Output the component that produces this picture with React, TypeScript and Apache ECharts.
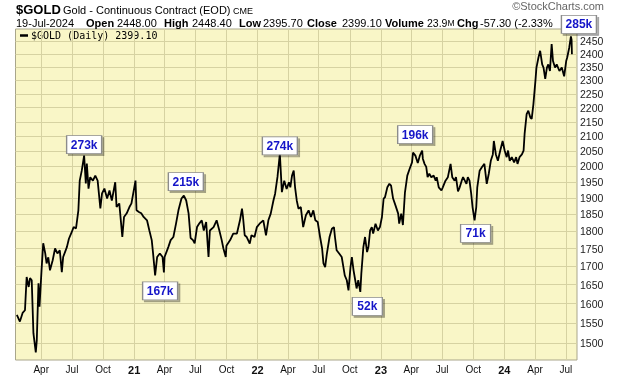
import React, { useEffect, useRef } from "react";
import * as echarts from "echarts";

// ---- data ----
const dates = [
  "2020-01-20","2020-01-29","2020-02-06","2020-02-13","2020-02-18","2020-02-24","2020-02-28","2020-03-04","2020-03-09","2020-03-16",
  "2020-03-19","2020-03-24","2020-03-27","2020-04-02","2020-04-07","2020-04-13","2020-04-17","2020-04-22","2020-04-27","2020-05-05",
  "2020-05-12","2020-05-19","2020-05-26","2020-06-01","2020-06-05","2020-06-16","2020-06-22","2020-06-29","2020-07-06","2020-07-13",
  "2020-07-20","2020-07-24","2020-07-30","2020-08-06","2020-08-11","2020-08-14","2020-08-19","2020-08-24","2020-09-01","2020-09-08",
  "2020-09-15","2020-09-23","2020-09-28","2020-10-05","2020-10-13","2020-10-20","2020-10-27","2020-11-06","2020-11-10","2020-11-18",
  "2020-11-27","2020-12-02","2020-12-10","2020-12-18","2020-12-24",
  "2021-01-05","2021-01-08","2021-01-15","2021-01-22","2021-01-29","2021-02-08","2021-02-15","2021-02-22","2021-02-26","2021-03-04",
  "2021-03-10","2021-03-18","2021-03-26","2021-03-30","2021-04-01","2021-04-12","2021-04-19","2021-04-27","2021-05-05","2021-05-12",
  "2021-05-21","2021-05-28","2021-06-04","2021-06-11","2021-06-17","2021-06-24","2021-06-29","2021-07-06","2021-07-13","2021-07-20",
  "2021-07-26","2021-08-02","2021-08-09","2021-08-13","2021-08-24","2021-09-02","2021-09-10","2021-09-17","2021-09-22","2021-09-29",
  "2021-10-01","2021-10-12","2021-10-21","2021-11-01","2021-11-10","2021-11-16","2021-11-19","2021-11-24","2021-11-30","2021-12-09",
  "2021-12-14","2021-12-23","2021-12-30",
  "2022-01-07","2022-01-18","2022-01-26","2022-02-02","2022-02-09","2022-02-17","2022-02-22","2022-03-01","2022-03-08","2022-03-14",
  "2022-03-21","2022-03-28","2022-04-04","2022-04-08","2022-04-13","2022-04-18","2022-04-22","2022-04-27","2022-05-02","2022-05-09",
  "2022-05-16","2022-05-24","2022-06-01","2022-06-08","2022-06-15","2022-06-21","2022-06-28","2022-07-05","2022-07-11","2022-07-15",
  "2022-07-20","2022-07-25","2022-08-02","2022-08-09","2022-08-15","2022-08-18","2022-08-23","2022-08-31","2022-09-07","2022-09-12",
  "2022-09-16","2022-09-22","2022-09-27","2022-10-03","2022-10-07","2022-10-12","2022-10-17","2022-10-21","2022-10-26","2022-11-01",
  "2022-11-04","2022-11-10","2022-11-15","2022-11-21","2022-11-25","2022-11-30","2022-12-05","2022-12-09","2022-12-16","2022-12-23",
  "2022-12-29",
  "2023-01-04","2023-01-09","2023-01-13","2023-01-20","2023-01-26","2023-01-31","2023-02-06","2023-02-13","2023-02-21","2023-02-24",
  "2023-03-02","2023-03-07","2023-03-13","2023-03-20","2023-03-27","2023-04-03","2023-04-06","2023-04-13","2023-04-20","2023-04-26",
  "2023-05-03","2023-05-05","2023-05-10","2023-05-15","2023-05-19","2023-05-24","2023-05-30","2023-06-06","2023-06-12","2023-06-15",
  "2023-06-21","2023-06-29","2023-07-03","2023-07-11","2023-07-18","2023-07-26","2023-07-31","2023-08-07","2023-08-11","2023-08-17",
  "2023-08-22","2023-08-28","2023-09-01","2023-09-11","2023-09-15","2023-09-20","2023-09-25","2023-09-29","2023-10-05","2023-10-10",
  "2023-10-13","2023-10-20","2023-10-27","2023-11-03","2023-11-10","2023-11-16","2023-11-22","2023-11-28","2023-12-01","2023-12-07",
  "2023-12-13","2023-12-20","2023-12-27",
  "2024-01-02","2024-01-08","2024-01-12","2024-01-17","2024-01-23","2024-01-30","2024-02-05","2024-02-09","2024-02-15","2024-02-22",
  "2024-02-27","2024-03-01","2024-03-07","2024-03-12","2024-03-18","2024-03-22","2024-03-27","2024-04-02","2024-04-05","2024-04-11",
  "2024-04-16","2024-04-22","2024-04-26","2024-05-01","2024-05-06","2024-05-10","2024-05-15","2024-05-20","2024-05-24","2024-05-30",
  "2024-06-04","2024-06-12","2024-06-19","2024-06-26","2024-07-02","2024-07-05","2024-07-11","2024-07-16","2024-07-18","2024-07-19"
];

const closes = [
  1571,1554,1576,1583,1671,1644,1668,1662,1525,1478,
  1508,1654,1592,1689,1765,1736,1708,1725,1689,1717,
  1750,1736,1745,1684,1726,1754,1778,1794,1812,1808,
  1862,1954,1986,2035,1945,2009,1929,1965,1954,1970,
  1954,1868,1914,1929,1898,1923,1892,1949,1872,1883,
  1783,1842,1853,1872,1883,
  1954,1862,1857,1853,1842,1832,1802,1774,1736,1675,
  1726,1736,1726,1683,1726,1754,1774,1783,1823,1862,
  1898,1907,1892,1853,1780,1774,1765,1812,1823,1832,
  1802,1827,1726,1802,1812,1832,1802,1774,1750,1726,
  1758,1774,1793,1793,1832,1867,1842,1788,1783,1764,
  1788,1783,1812,
  1822,1832,1788,1832,1852,1892,1913,1966,2041,1918,
  1954,1928,1949,1933,1970,1986,1933,1892,1867,1872,
  1812,1847,1862,1842,1862,1832,1827,1783,1750,1708,
  1698,1735,1783,1807,1812,1783,1745,1735,1726,1698,
  1675,1662,1635,1698,1726,1689,1662,1640,1662,1631,
  1680,1754,1783,1740,1754,1802,1812,1793,1822,1802,
  1812,
  1842,1898,1902,1933,1944,1938,1898,1877,1852,1822,
  1852,1818,1916,1970,1992,2013,2045,2035,2011,2035,
  2052,2025,2008,1998,1965,1976,1965,1970,1954,1965,
  1933,1923,1933,1954,1965,2008,1965,1954,1965,1920,
  1933,1954,1965,1944,1965,1954,1913,1872,1832,1872,
  1933,1986,1998,2008,1944,1976,2018,2039,2084,2039,
  2018,2052,2084,
  2052,2030,2052,2018,2030,2013,2030,2008,2030,2039,
  2052,2108,2177,2189,2165,2160,2212,2298,2348,2387,
  2413,2360,2348,2305,2348,2360,2335,2440,2373,2348,
  2360,2335,2348,2315,2373,2387,2425,2470,2456,2399.1
];

const yTicks = [1500,1550,1600,1650,1700,1750,1800,1850,1900,1950,2000,2050,2100,2150,2200,2250,2300,2350,2400,2450];

const quarterTicks = [
  "2020-04-01","2020-07-01","2020-10-01","2021-01-01","2021-04-01","2021-07-01","2021-10-01",
  "2022-01-01","2022-04-01","2022-07-01","2022-10-01","2023-01-01","2023-04-01","2023-07-01",
  "2023-10-01","2024-01-01","2024-04-01","2024-07-01"
];
const monthNames = ["Jan","Feb","Mar","Apr","May","Jun","Jul","Aug","Sep","Oct","Nov","Dec"];

const volumeLabels = ["273k","215k","167k","274k","52k","196k","71k","285k"];
const volumeDates = ["2020-08-06","2021-05-28","2021-03-04","2022-03-08","2022-11-01","2023-05-03","2023-10-05","2024-07-16"];
const volumeValues = [2035,1907,1675,2041,1631,2052,1832,2470];
const volumeOffsets = [[0,-11],[2,-14],[5,15.5],[0,-8],[7,14.5],[-7,-16],[1,13],[8,-12]];

const quoteLabels = ["Open","High","Low","Close","Volume","Chg"];
const quoteValues = ["2448.00","2448.40","2395.70","2399.10","23.9{s|M}","-57.30 (-2.33%"];

const parseLocal = (s: string) => {
  const [y, m, d] = s.split("-").map(Number);
  return new Date(y, m - 1, d).getTime();
};

export default function App() {
  const ref = useRef<HTMLDivElement>(null);
  useEffect(() => {
    if (!ref.current) return;
    const chart = echarts.init(ref.current, undefined, { renderer: "svg" });
    const font = "'Liberation Sans', Arial, sans-serif";
    const gridColor = "#d6d2a2";
    const qTicks = quarterTicks.map(parseLocal);

    const quoteX = [86, 164, 239, 307, 385, 457];
    const valX = [117, 192, 263, 342, 427, 480];
    const graphics: any[] = [
      { type: "text", left: 16, top: 3, style: { text: "$GOLD", font: `bold 13px ${font}`, fill: "#000" } },
      { type: "text", left: 63, top: 4, style: { text: "Gold - Continuous Contract (EOD)", font: `11px ${font}`, fill: "#000" } },
      { type: "text", left: 233, top: 6, style: { text: "CME", font: `9px ${font}`, fill: "#000" } },
      { type: "text", left: 16, top: 17, style: { text: "19-Jul-2024", font: `11px ${font}`, fill: "#000" } },
      { type: "text", right: 16, top: 0, style: { text: "\u00A9StockCharts.com", font: `11px ${font}`, fill: "#666" } },
      { type: "line", shape: { x1: 20, y1: 35.5, x2: 28, y2: 35.5 }, style: { stroke: "#000", lineWidth: 2.5 } },
      { type: "text", left: 31, top: 30, style: { text: "$GOLD (Daily) 2399.10", font: "10px 'DejaVu Sans Mono', monospace", fill: "#000" } },
    ];
    quoteLabels.forEach((l, i) => {
      graphics.push({ type: "text", left: quoteX[i], top: 17, style: { text: l, font: `bold 11px ${font}`, fill: "#000" } });
      graphics.push({
        type: "text", left: valX[i], top: 17,
        style: {
          text: quoteValues[i], font: `${i === 4 ? 10.5 : 11}px ${font}`, fill: "#000",
          rich: { s: { fontSize: 8.5, fontFamily: font, fill: "#000" } },
        },
      });
    });

    chart.setOption({
      animation: false,
      grid: {
        left: 15.5, right: 43, top: 29, bottom: 16,
        show: true, backgroundColor: "#f9f6c7", borderColor: "#a9a68b", borderWidth: 1,
      },
      xAxis: {
        type: "value",
        min: parseLocal("2020-01-16"),
        max: parseLocal("2024-08-03"),
        axisLine: { show: false },
        axisTick: { show: false, customValues: qTicks },
        axisLabel: {
          customValues: qTicks,
          color: "#111",
          fontSize: 10,
          fontFamily: font,
          margin: 4,
          hideOverlap: false,
          formatter: (v: number) => {
            const d = new Date(v);
            const m = d.getMonth();
            if (m === 0) return `{y|${String(d.getFullYear()).slice(2)}}`;
            return monthNames[m];
          },
          rich: { y: { fontWeight: "bold", fontSize: 11, fontFamily: font, color: "#111" } },
        },
        splitLine: { show: true, lineStyle: { color: gridColor, width: 1 } },
      },
      yAxis: {
        type: "log",
        logBase: 10,
        position: "right",
        min: 1460,
        max: 2500,
        axisLine: { show: false },
        axisTick: { show: false, customValues: yTicks },
        axisLabel: {
          customValues: yTicks,
          color: "#222",
          fontSize: 10.5,
          fontFamily: font,
          margin: 3,
          formatter: (v: number) => String(Math.round(v)),
        },
        splitLine: { show: true, lineStyle: { color: gridColor, width: 1 } },
      },
      graphic: graphics,
      series: [
        {
          type: "line",
          data: dates.map((d, i) => [parseLocal(d), closes[i]]),
          symbol: "none",
          lineStyle: { color: "#000", width: 1.8 },
          z: 3,
          markPoint: {
            symbol: "rect",
            silent: true,
            label: {
              show: true,
              position: "inside",
              formatter: "{b}",
              color: "#1515c8",
              fontWeight: "bold",
              fontSize: 12,
              fontFamily: font,
            },
            itemStyle: {
              color: "#fff",
              borderColor: "#8c8c8c",
              borderWidth: 1,
              shadowColor: "rgba(0,0,0,0.35)",
              shadowOffsetX: 2,
              shadowOffsetY: 2,
              shadowBlur: 1,
            },
            data: volumeLabels.map((l, i) => ({
              name: l,
              coord: [parseLocal(volumeDates[i]), volumeValues[i]],
              symbolSize: [l.length > 3 ? 35 : 30, 18],
              symbolOffset: volumeOffsets[i],
            })),
          },
        },
      ],
    });
    return () => chart.dispose();
  }, []);
  return <div ref={ref} style={{ position: "fixed", left: 0, top: 0, width: 620, height: 376 }} />;
}
